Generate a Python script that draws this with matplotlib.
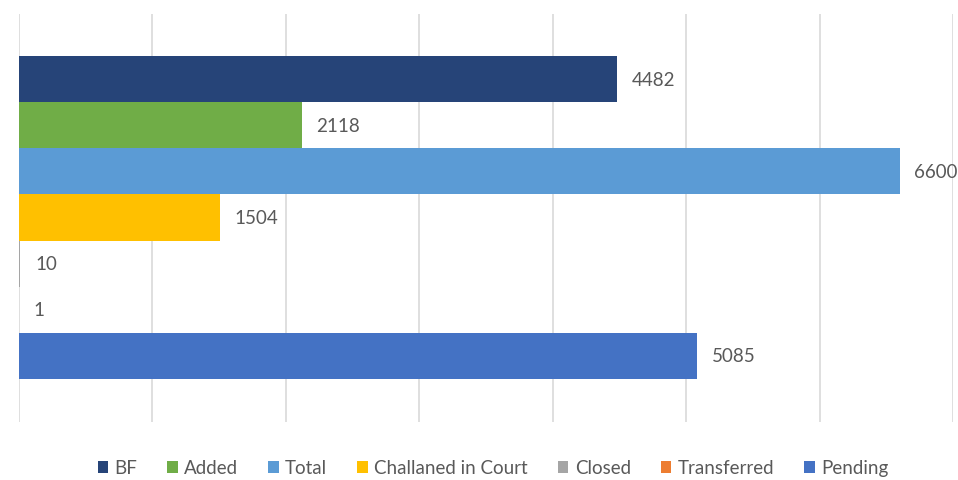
import matplotlib
matplotlib.use("Agg")
import matplotlib.pyplot as plt
from matplotlib.patches import Patch

series = ["BF", "Added", "Total", "Challaned in Court", "Closed", "Transferred", "Pending"]
values = [4482, 2118, 6600, 1504, 10, 1, 5085]
colors = ["#264478", "#70AD47", "#5B9BD5", "#FFC000", "#A5A5A5", "#ED7D31", "#4472C4"]
xticks = [0, 1000, 2000, 3000, 4000, 5000, 6000, 7000]

plt.rcParams['font.family'] = ['Lato', 'DejaVu Sans']

fig = plt.figure(figsize=(9.58, 4.81), dpi=100)
ax = fig.add_axes([19/958, 1 - 423/481, (953-19)/958, (423-15)/481])

ys = list(range(len(series)))
ax.barh(ys, values, height=1.0, color=colors, zorder=3)
for y, v in zip(ys, values):
    ax.text(v + 110, y, str(v), va='center', ha='left', fontsize=13.5,
            color='#595959', clip_on=False)

ax.set_xlim(0, 7000)
ax.set_ylim(7.43, -1.41)
ax.set_xticks(xticks)
ax.set_yticks([])
ax.tick_params(axis='x', length=0, labelbottom=False)
ax.grid(axis='x', color='#D9D9D9', linewidth=1.2, zorder=0)
for s in ax.spines.values():
    s.set_visible(False)

handles = [Patch(facecolor=c, edgecolor='none') for c in colors]
fig.legend(handles, series, loc='center', bbox_to_anchor=(493/958, 1 - 469/481),
           ncol=7, frameon=False, fontsize=13.5, handlelength=0.55, handleheight=0.55,
           handletextpad=0.35, columnspacing=1.6, labelcolor='#595959')

fig.savefig("out.png", dpi=100)
